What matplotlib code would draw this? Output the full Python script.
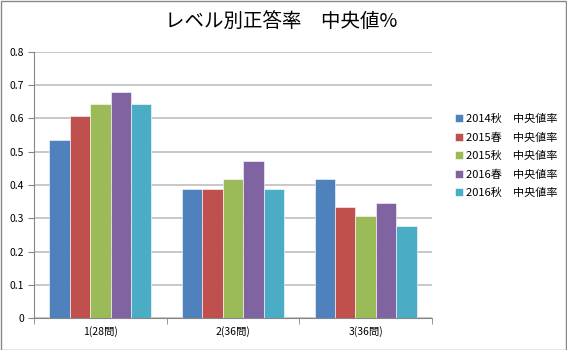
import numpy as np
import matplotlib.pyplot as plt
from matplotlib.patches import Rectangle

plt.rcParams['font.family'] = ['Noto Sans CJK JP', 'DejaVu Sans']

levels = ["1(28問)", "2(36問)", "3(36問)"]
series = ["2014秋\u3000中央値率", "2015春\u3000中央値率", "2015秋\u3000中央値率",
          "2016春\u3000中央値率", "2016秋\u3000中央値率"]
v2014a = [0.536, 0.389, 0.417]
v2015s = [0.607, 0.389, 0.333]
v2015a = [0.643, 0.417, 0.306]
v2016s = [0.679, 0.472, 0.347]
v2016a = [0.643, 0.389, 0.278]
values = [v2014a, v2015s, v2015a, v2016s, v2016a]
colors = ["#4F81BD", "#C0504D", "#9BBB59", "#8064A2", "#4BACC6"]

fig = plt.figure(figsize=(5.67, 3.5), dpi=100)
ax = fig.add_axes([34 / 567, 32 / 350, 398 / 567, 266 / 350])

# Excel-style clustered bars: gap width 150%
n = len(series)
w = 1 / (n + 1.5)
x = np.arange(len(levels))
for i, (vals, c, lab) in enumerate(zip(values, colors, series)):
    pos = x - 0.5 + 0.75 * w + (i + 0.5) * w
    ax.bar(pos, vals, width=w, color=c, edgecolor="white", linewidth=0.4,
           label=lab, zorder=3)

ax.set_xlim(-0.5, len(levels) - 0.5)
ax.set_ylim(0, 0.8)
ax.set_yticks(np.arange(0, 0.81, 0.1))
ax.set_yticklabels(["0" if t == 0 else f"{t:.1f}" for t in np.arange(0, 0.81, 0.1)])
ax.yaxis.grid(True, color="#BFBFBF", linewidth=1.2, zorder=0)
ax.set_axisbelow(True)

ax.set_xticks(x)
ax.set_xticklabels(levels)
ax.set_xticks(np.arange(-0.5, len(levels)), minor=True)
ax.tick_params(axis="x", which="major", length=0, labelsize=7.5, pad=6)
ax.tick_params(axis="x", which="minor", length=4, color="#868686")
ax.tick_params(axis="y", length=4, color="#868686", labelsize=7.5, pad=3)

for s in ["top", "right"]:
    ax.spines[s].set_visible(False)
ax.spines["left"].set_color("#868686")
ax.spines["bottom"].set_color("#868686")

fig.text(281 / 567, 1 - 22 / 350, "レベル別正答率\u3000中央値%", ha="center", va="center",
         fontsize=14)

ax.legend(loc="center left", bbox_to_anchor=(445 / 567, 194 / 350),
          bbox_transform=fig.transFigure, frameon=False, fontsize=8,
          handlelength=0.7, handleheight=0.7, handletextpad=0.3, labelspacing=0.75)

fig.add_artist(Rectangle((0.5 / 567, 0.5 / 350), 565.5 / 567, 348.5 / 350,
                         transform=fig.transFigure, fill=False,
                         edgecolor="#888888", linewidth=1))

fig.savefig("out.png", dpi=100)
